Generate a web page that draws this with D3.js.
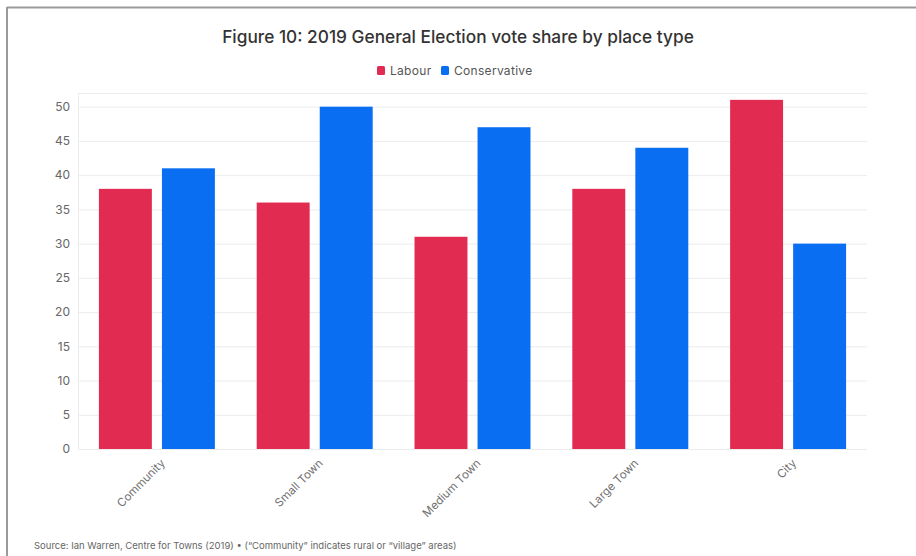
<!DOCTYPE html>
<html>
<head>
<meta charset="utf-8">
<script src="https://cdn.jsdelivr.net/npm/d3@7"></script>
<style>
  html, body { margin: 0; padding: 0; background: #fff; }
  svg { display: block; font-family: Inter, Roboto, "Noto Sans", sans-serif; }
</style>
</head>
<body>
<svg id="chart" width="916" height="556"></svg>
<script>
// Vote share (%) by place type, 2019 General Election
const categories = ["Community", "Small Town", "Medium Town", "Large Town", "City"];
const seriesNames = ["Labour", "Conservative"];
const labour = [38, 36, 31, 38, 51];
const conservative = [41, 50, 47, 44, 30];
const yTicks = [0, 5, 10, 15, 20, 25, 30, 35, 40, 45, 50];
const colors = ["#e22b51", "#0a6ef2"];

const title = "Figure 10: 2019 General Election vote share by place type";
const source = "Source: Ian Warren, Centre for Towns (2019) \u2022 (\u201cCommunity\u201d indicates rural or \u201cvillage\u201d areas)";

const rows = categories.map((c, i) => ({ category: c, values: [labour[i], conservative[i]] }));

const svg = d3.select("#chart");
const W = 916, H = 556;
const plot = { left: 78, right: 867, top: 93, bottom: 449 };

// Frame lines along the top and left edge
svg.append("line").attr("x1", 7).attr("x2", W).attr("y1", 7.5).attr("y2", 7.5)
  .attr("stroke", "#9a9a9a").attr("stroke-width", 2);
svg.append("line").attr("x1", 7).attr("x2", 7).attr("y1", 7).attr("y2", H)
  .attr("stroke", "#9a9a9a").attr("stroke-width", 2);

// Title
svg.append("text").attr("x", 458).attr("y", 43).attr("text-anchor", "middle")
  .attr("font-size", 17.3).attr("font-weight", 500).attr("fill", "#333")
  .text(title);

// Scales
const x0 = d3.scaleBand().domain(categories).range([plot.left, plot.right])
  .paddingInner(0.265).paddingOuter(0.1325);
const x1 = d3.scaleBand().domain(seriesNames).range([0, x0.bandwidth()])
  .paddingInner(0.16).paddingOuter(0);
const y = d3.scaleLinear().domain([0, 52]).range([plot.bottom, plot.top]);
const color = d3.scaleOrdinal().domain(seriesNames).range(colors);

// Gridlines and y labels
const yAxis = d3.axisLeft(y).tickValues(yTicks).tickSize(-(plot.right - plot.left)).tickPadding(8);
const gy = svg.append("g").attr("transform", `translate(${plot.left},0)`).call(yAxis);
gy.select(".domain").attr("stroke", "#ececec");
gy.selectAll(".tick line").attr("stroke", "#ececec");
gy.selectAll(".tick text").attr("font-size", 12).attr("fill", "#666")
  .attr("font-family", "Inter, Roboto, sans-serif");

// Bars
const groups = svg.append("g").selectAll("g").data(rows).join("g")
  .attr("transform", d => `translate(${x0(d.category)},0)`);
groups.selectAll("rect")
  .data(d => d.values.map((v, i) => ({ key: seriesNames[i], value: v })))
  .join("rect")
  .attr("x", d => x1(d.key))
  .attr("width", x1.bandwidth())
  .attr("y", d => y(d.value))
  .attr("height", d => y(0) - y(d.value))
  .attr("fill", d => color(d.key));

// Category labels, rotated
const xAxis = d3.axisBottom(x0).tickSize(0).tickPadding(0);
const gx = svg.append("g").attr("transform", `translate(0,${plot.bottom})`).call(xAxis);
gx.select(".domain").remove();
gx.selectAll(".tick text")
  .attr("font-size", 11.5).attr("fill", "#707070")
  .attr("font-family", "Inter, Roboto, sans-serif")
  .attr("text-anchor", "end")
  .attr("transform", "translate(6,12) rotate(-45)")
  .attr("dy", "0.35em").attr("y", 0);

// Legend
const legendItems = [
  { name: seriesNames[0], x: 377 },
  { name: seriesNames[1], x: 441 }
];
const lg = svg.append("g").selectAll("g").data(legendItems).join("g")
  .attr("transform", d => `translate(${d.x},66)`);
lg.append("rect").attr("width", 8).attr("height", 9).attr("rx", 1.5)
  .attr("fill", d => color(d.name));
lg.append("text").attr("x", 13).attr("y", 8.8).attr("font-size", 12).attr("fill", "#555")
  .attr("letter-spacing", 0.3)
  .text(d => d.name);

// Source note
svg.append("text").attr("x", 34).attr("y", 549).attr("font-size", 9.5).attr("fill", "#666")
  .text(source);
</script>
</body>
</html>
